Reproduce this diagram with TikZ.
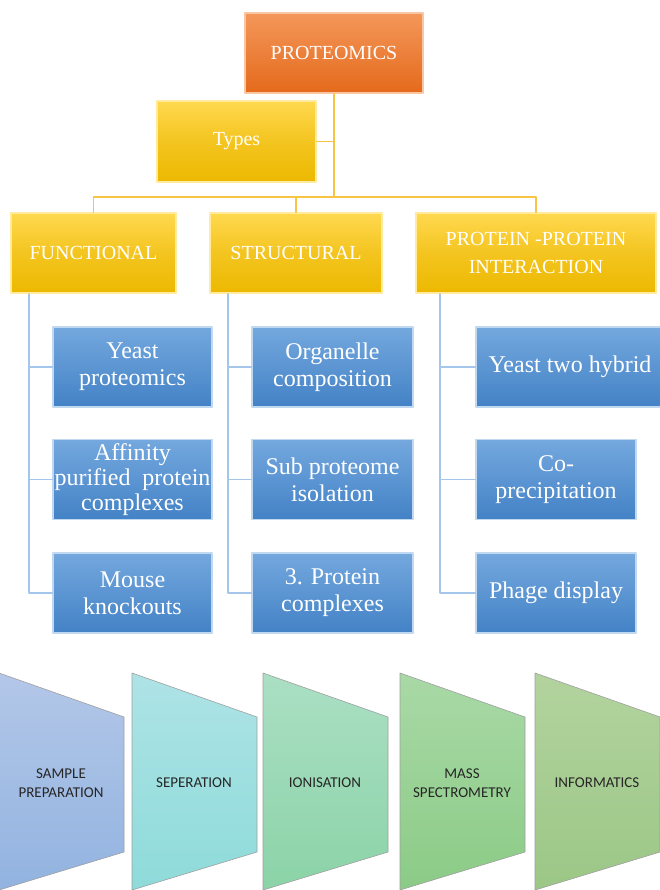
\documentclass[tikz,border=0pt]{standalone}
\usepackage{fontspec}
\setmainfont{Liberation Serif}
\newfontfamily\stepfont{Carlito}
\definecolor{orgtop}{HTML}{F4975A}
\definecolor{orgbot}{HTML}{E46A1C}
\definecolor{yeltop}{HTML}{FFD84F}
\definecolor{yelbot}{HTML}{ECB800}
\definecolor{blutop}{HTML}{74A8DE}
\definecolor{blubot}{HTML}{4382C6}
\definecolor{yline}{HTML}{F7C543}
\definecolor{bline}{HTML}{A3C6EA}
\begin{document}
\begin{tikzpicture}[x=1pt, y=-1pt, line cap=round, line join=round,
		box/.style={line width=1.5pt, text=white, align=center, inner sep=1pt},
		orangebox/.style={box, draw=orgtop!55!white, top color=orgtop, bottom color=orgbot, middle color=orgtop!50!orgbot, font=\fontsize{20}{24}\selectfont},
		yellowbox/.style={box, draw=yeltop!55!white, top color=yeltop, bottom color=yelbot, middle color=yeltop!40!yelbot, font=\fontsize{20}{28}\selectfont},
		bluebox/.style={box, draw=blutop!45!white, top color=blutop, bottom color=blubot, middle color=blutop!50!blubot, font=\fontsize{24}{27}\selectfont, minimum width=160pt, minimum height=80pt},
		ylink/.style={yline, line width=1.6pt},
		blink/.style={bline, line width=1.6pt},
		trap/.style={draw=gray!75, line width=0.6pt}]
	\useasboundingbox (0,0) rectangle (659,890);
	\node[orangebox, minimum width=178pt, minimum height=80pt] (prot) at (334,53) {PROTEOMICS};
	\node[yellowbox, minimum width=159pt, minimum height=81pt] (types) at (236.5,141.5) {Types};
	\node[yellowbox, minimum width=165pt, minimum height=80pt] (func) at (93.5,253) {FUNCTIONAL};
	\node[yellowbox, minimum width=172pt, minimum height=80pt] (struc) at (296,253) {STRUCTURAL};
	\node[yellowbox, minimum width=240pt, minimum height=80pt] (ppi) at (536,253) {PROTEIN -PROTEIN\\INTERACTION};
	\coordinate (bus) at (334,197);
	\draw[ylink] (prot.south) -- (bus);
	\draw[ylink] (types.east) -- (types.east -| bus);
	\draw[ylink] (func.north) |- (bus) -| (ppi.north);
	\draw[ylink] (struc.north) -- (struc.north |- bus);
	\node[bluebox, minimum width=159pt] (yeast) at (132.5,367) {Yeast\\proteomics};
	\node[bluebox, minimum width=159pt, font=\fontsize{24}{25}\selectfont] (affin) at (132.5,479.5) {Affinity\\purified\ \ protein\\complexes};
	\node[bluebox, minimum width=159pt] (mouse) at (132.5,593) {Mouse\\knockouts};
	\node[bluebox, minimum width=161pt] (organ) at (332.5,367) {Organelle\\composition};
	\node[bluebox, minimum width=161pt] (subpr) at (332.5,479.5) {Sub proteome\\isolation};
	\node[bluebox, minimum width=161pt] (pcomp) at (332.5,593) {3. Protein\\complexes};
	\node[bluebox, minimum width=188pt] (twohyb) at (570,367) {Yeast two hybrid};
	\node[bluebox] (coprec) at (556,479.5) {Co-\\precipitation};
	\node[bluebox] (phage) at (556,593) {Phage display};
	\coordinate (s1) at (29,294);
	\coordinate (s2) at (228,294);
	\coordinate (s3) at (440,294);
	\draw[blink] (s1) |- (mouse.west);
	\draw[blink] (s1 |- yeast.west) -- (yeast.west);
	\draw[blink] (s1 |- affin.west) -- (affin.west);
	\draw[blink] (s2) |- (pcomp.west);
	\draw[blink] (s2 |- organ.west) -- (organ.west);
	\draw[blink] (s2 |- subpr.west) -- (subpr.west);
	\draw[blink] (s3) |- (phage.west);
	\draw[blink] (s3 |- twohyb.west) -- (twohyb.west);
	\draw[blink] (s3 |- coprec.west) -- (coprec.west);
	\foreach \lx/\ct/\cb/\nm/\txt in {
			-1/B3C7E8/92B3E0/sample/{SAMPLE\\PREPARATION},
			132/AEE3E6/8EDBDA/seper/{SEPERATION},
			263/ABDFC4/8BD3A7/ionis/{IONISATION},
			400/A9D9A6/8BCB86/massp/{MASS\\SPECTROMETRY},
			535/B3D39E/9BC786/infor/{INFORMATICS}} {
		\definecolor{tt}{HTML}{\ct}
		\definecolor{tb}{HTML}{\cb}
		\draw[trap, top color=tt, bottom color=tb] (\lx,673) -- (\lx+125,717) -- (\lx+125,852) -- (\lx,890) -- cycle;
		\node[align=center, font=\stepfont\fontsize{15}{19}\selectfont, text=black!85] (\nm) at (\lx+62,783) {\txt};
	}
\end{tikzpicture}
\end{document}
